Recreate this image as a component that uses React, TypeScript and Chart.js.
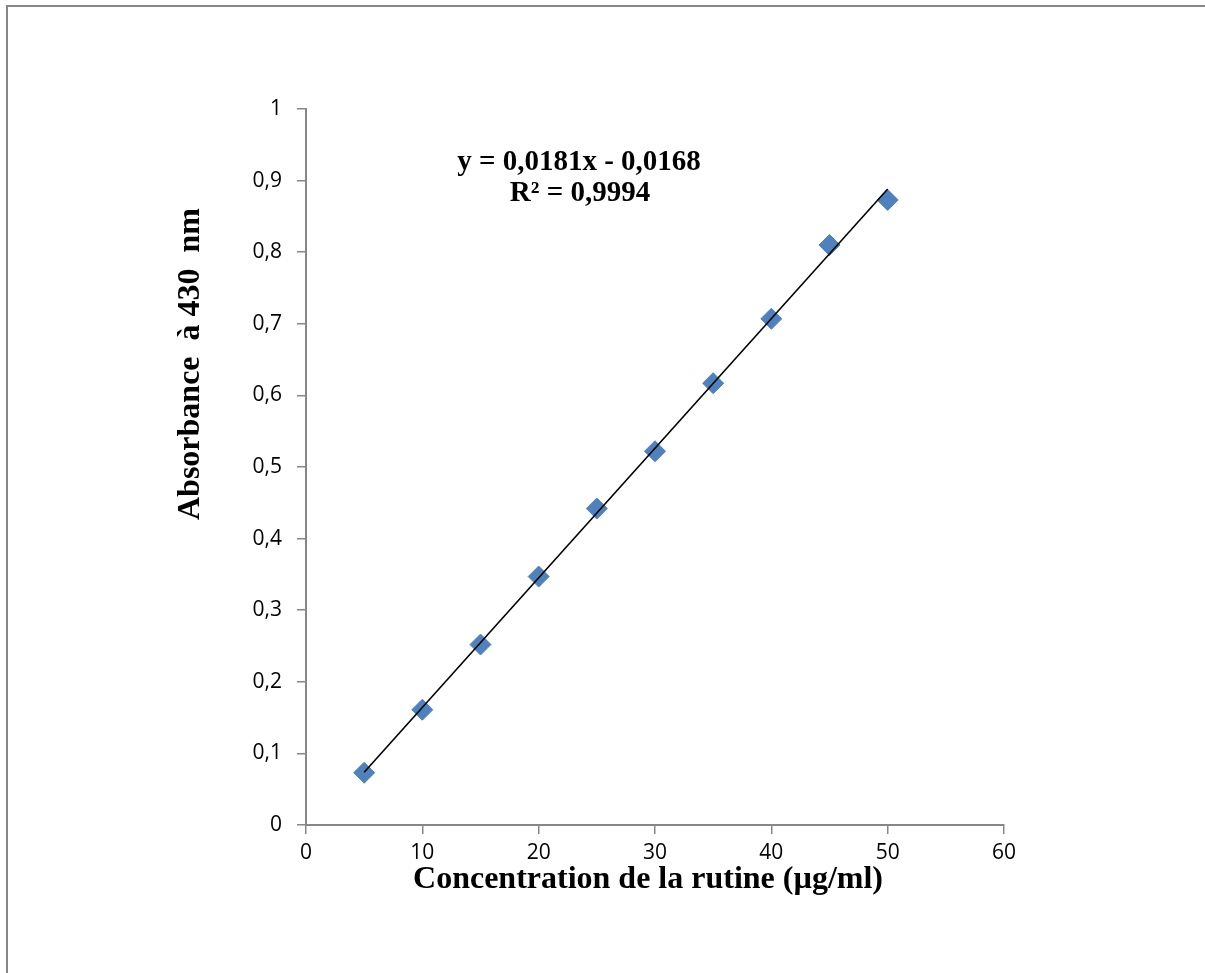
import React, { useEffect, useRef } from "react";
import { Chart, registerables } from "chart.js";

Chart.register(...registerables);

// Data
const concentrations = [5, 10, 15, 20, 25, 30, 35, 40, 45, 50];
const absorbances = [0.073, 0.161, 0.252, 0.347, 0.442, 0.522, 0.617, 0.707, 0.81, 0.873];
const slope = 0.0181;
const intercept = -0.0168;
const xTitle = "Concentration de la rutine (µg/ml)";
const yTitle = "Absorbance  à 430  nm";
const eqLine1 = "y = 0,0181x - 0,0168";
const eqLine2 = "R² = 0,9994";

const AXIS_GRAY = "#878787";

const textPlugin = {
  id: "texts",
  afterDraw(chart: any) {
    const ctx = chart.ctx;
    const area = chart.chartArea;
    ctx.save();
    ctx.fillStyle = "#000";
    ctx.textAlign = "center";
    ctx.textBaseline = "alphabetic";
    ctx.font = 'bold 32px "Liberation Serif"';
    ctx.fillText(xTitle, (area.left + area.right) / 2 - 7, 888);
    ctx.save();
    ctx.translate(199, 364);
    ctx.rotate(-Math.PI / 2);
    ctx.fillText(yTitle, 0, 0);
    ctx.restore();
    ctx.font = 'bold 29px "Liberation Serif"';
    ctx.fillText(eqLine1, 579, 170);
    ctx.fillText(eqLine2, 580, 201);
    ctx.restore();
  },
};

export default function App() {
  const ref = useRef<HTMLCanvasElement | null>(null);
  useEffect(() => {
    if (!ref.current) return;
    const points = concentrations.map((x, i) => ({ x, y: absorbances[i] }));
    const xs = [concentrations[0], concentrations[concentrations.length - 1]];
    const trend = xs.map((x) => ({ x, y: slope * x + intercept }));
    const fmt = (v: number) => String(Math.round(v * 10) / 10).replace(".", ",");
    const tickFont = { family: '"Open Sans", "Liberation Sans", sans-serif', size: 21 };
    const chart = new Chart(ref.current, {
      type: "scatter",
      data: {
        datasets: [
          {
            label: "trend",
            data: trend,
            showLine: true,
            borderColor: "#000",
            borderWidth: 1.6,
            pointRadius: 0,
            order: 0,
          } as any,
          {
            label: "points",
            data: points,
            pointStyle: "rectRot",
            pointRadius: 10.5,
            backgroundColor: "#4F81BD",
            borderColor: "#4F81BD",
            borderWidth: 1,
            order: 1,
          } as any,
        ],
      },
      options: {
        animation: false,
        responsive: false,
        maintainAspectRatio: false,
        layout: { padding: { left: 0, top: 109, right: 201, bottom: 0 } },
        plugins: { legend: { display: false }, tooltip: { enabled: false } },
        scales: {
          x: {
            type: "linear",
            min: 0,
            max: 60,
            ticks: {
              stepSize: 10,
              color: "#000",
              padding: 6,
              font: tickFont,
              callback: (v: any) => fmt(Number(v)),
            },
            grid: { drawOnChartArea: false, drawTicks: true, tickLength: 9, color: AXIS_GRAY, lineWidth: 1.5 },
            border: { color: AXIS_GRAY, width: 2 },
            afterFit: (s: any) => {
              s.height = 148;
            },
          },
          y: {
            type: "linear",
            min: 0,
            max: 1,
            ticks: {
              stepSize: 0.1,
              color: "#000",
              padding: 15,
              font: tickFont,
              callback: (v: any) => fmt(Number(v)),
            },
            grid: { drawOnChartArea: false, drawTicks: true, tickLength: 9, color: AXIS_GRAY, lineWidth: 1.5 },
            border: { color: AXIS_GRAY, width: 2 },
            afterFit: (s: any) => {
              s.width = 306;
            },
          },
        },
      },
      plugins: [textPlugin],
    });
    return () => chart.destroy();
  }, []);

  return (
    <div style={{ position: "absolute", left: 0, top: 0, width: 1205, height: 973, overflow: "hidden", background: "#fff" }}>
      <canvas ref={ref} width={1205} height={973} style={{ position: "absolute", left: 0, top: 0, width: 1205, height: 973 }} />
      <div
        style={{
          position: "absolute",
          left: 6,
          top: 5,
          width: 1300,
          height: 1100,
          border: `2px solid ${AXIS_GRAY}`,
          pointerEvents: "none",
        }}
      />
    </div>
  );
}
